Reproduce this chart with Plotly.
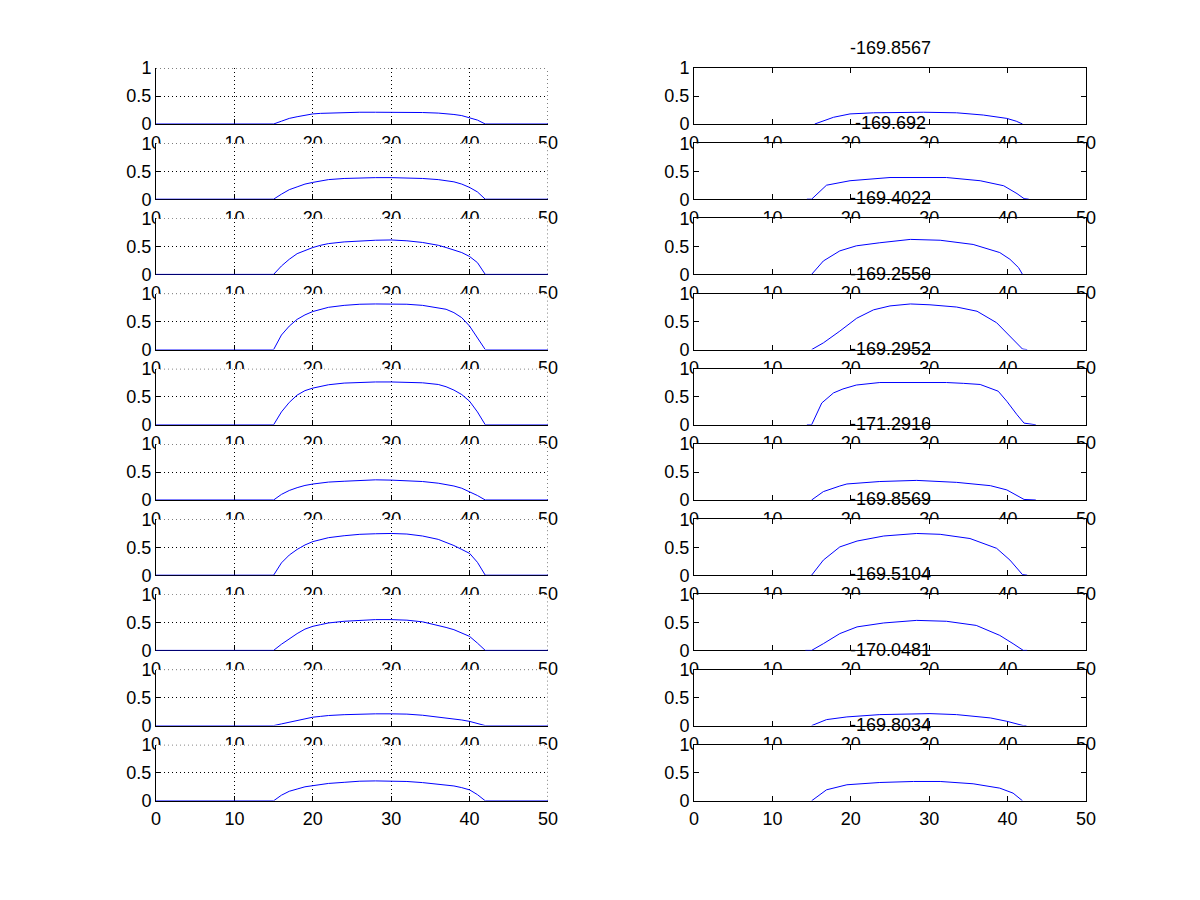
import plotly.graph_objects as go

# ---------------- data ----------------
x_left = [0, 15, 16, 17, 18, 19, 20, 21, 22, 24, 26, 28, 30, 32, 34, 36, 37, 38, 39, 40, 41, 42, 50]

left_1 = [0, 0, .05, .10, .13, .155, .18, .19, .195, .205, .21, .21, .21, .21, .205, .195, .185, .17, .15, .11, .07, 0, 0]
left_2 = [0, 0, .09, .17, .22, .27, .30, .33, .35, .37, .38, .385, .385, .38, .37, .35, .33, .31, .27, .21, .13, 0, 0]
left_3 = [0, 0, .15, .27, .37, .43, .48, .52, .55, .58, .60, .61, .615, .60, .57, .52, .48, .44, .39, .32, .21, 0, 0]
left_4 = [0, 0, .26, .42, .54, .62, .68, .72, .755, .79, .81, .815, .815, .81, .79, .75, .72, .66, .57, .42, .20, 0, 0]
left_5 = [0, 0, .23, .40, .53, .61, .655, .69, .715, .745, .76, .765, .765, .76, .75, .72, .68, .62, .54, .42, .23, 0, 0]
left_6 = [0, 0, .10, .17, .22, .26, .285, .305, .32, .335, .345, .36, .355, .345, .33, .30, .28, .25, .21, .15, .08, 0, 0]
left_7 = [0, 0, .22, .36, .46, .54, .60, .64, .67, .705, .73, .74, .745, .735, .70, .64, .59, .53, .46, .39, .23, 0, 0]
left_8 = [0, 0, .11, .21, .30, .38, .43, .46, .49, .52, .54, .55, .55, .54, .51, .45, .41, .37, .31, .25, .13, 0, 0]
left_9 = [0, 0, .03, .06, .09, .125, .15, .165, .18, .195, .205, .21, .21, .205, .185, .155, .14, .12, .10, .075, .04, 0, 0]
left_10 = [0, 0, .10, .17, .21, .25, .27, .29, .31, .33, .35, .355, .355, .345, .325, .30, .285, .265, .235, .195, .11, 0, 0]

right_x_1 = [15.4, 16.5, 17.8, 19.9, 22.9, 29.3, 33.5, 36.9, 39.9, 41.1, 41.9]
right_y_1 = [0, .05, .12, .18, .20, .21, .20, .16, .10, .05, 0]
right_x_2 = [14.4, 15.0, 16.9, 19.9, 25.0, 32.2, 36.5, 39.5, 41.2, 42.1, 42.7]
right_y_2 = [0, 0, .25, .33, .387, .387, .33, .24, .10, .01, 0]
right_x_3 = [15.0, 16.5, 18.6, 20.7, 23.7, 27.6, 31.4, 35.6, 39.0, 40.3, 41.4, 41.9]
right_y_3 = [0, .24, .42, .51, .565, .625, .61, .535, .39, .27, .12, 0]
right_x_4 = [15.0, 16.5, 18.6, 20.75, 22.9, 25.0, 27.6, 30.1, 33.5, 36.1, 38.6, 40.3, 41.9, 42.5]
right_y_4 = [0, .12, .33, .56, .71, .78, .815, .80, .76, .685, .48, .24, .01, 0]
right_x_5 = [14.4, 15.0, 16.3, 17.8, 19.0, 20.7, 23.7, 32.2, 34.4, 36.5, 38.8, 39.9, 41.2, 42.1, 43.6]
right_y_5 = [0, 0, .39, .57, .64, .71, .755, .755, .74, .72, .60, .42, .18, .03, 0]
right_x_6 = [15.0, 16.5, 18.6, 19.5, 23.7, 28.4, 33.5, 37.8, 39.9, 41.6, 42.1, 43.6]
right_y_6 = [0, .15, .25, .286, .33, .35, .315, .256, .18, .06, .01, 0]
right_x_7 = [15.0, 16.5, 18.6, 20.8, 24.2, 28.4, 31.4, 35.2, 38.6, 40.3, 41.9, 42.5]
right_y_7 = [0, .27, .505, .61, .70, .745, .73, .655, .48, .27, .01, 0]
right_x_8 = [14.2, 15.0, 16.5, 18.6, 20.8, 24.2, 28.4, 32.2, 36.0, 39.0, 40.7, 42.0, 42.5]
right_y_8 = [0, 0, .12, .30, .42, .49, .536, .52, .446, .268, .12, 0, 0]
right_x_9 = [15.0, 16.9, 19.5, 23.7, 30.1, 33.5, 37.8, 39.9, 42.0, 42.4]
right_y_9 = [0, .107, .155, .196, .214, .196, .137, .077, 0, 0]
right_x_10 = [15.0, 16.9, 19.5, 23.7, 28.0, 31.4, 35.6, 39.0, 40.7, 41.9]
right_y_10 = [0, .196, .286, .327, .345, .345, .304, .226, .137, 0]

titles = ["-169.8567", "-169.692", "-169.4022", "-169.2556", "-169.2952",
          "-171.2916", "-169.8569", "-169.5104", "-170.0481", "-169.8034"]

x_ticks = [0, 10, 20, 30, 40, 50]
y_ticks = [0, 0.5, 1]
y_tick_text = ["0", "0.5", "1"]

left_series = [left_1, left_2, left_3, left_4, left_5, left_6, left_7, left_8, left_9, left_10]
right_series = [(right_x_1, right_y_1), (right_x_2, right_y_2), (right_x_3, right_y_3),
                (right_x_4, right_y_4), (right_x_5, right_y_5), (right_x_6, right_y_6),
                (right_x_7, right_y_7), (right_x_8, right_y_8), (right_x_9, right_y_9),
                (right_x_10, right_y_10)]

# ---------------- layout ----------------
PAGE_OFF = 8                      # default body margin of the html page
W, H = 1200 - 2 * PAGE_OFF, 900 - 2 * PAGE_OFF
LEFT_X = (156 - PAGE_OFF, 548 - PAGE_OFF)
RIGHT_X = (694 - PAGE_OFF, 1086 - PAGE_OFF)
TOP0 = 68 - PAGE_OFF
PITCH = 75.2
AX_H = 56
X_MIN, X_MAX = x_ticks[0], x_ticks[-1]
Y_MIN, Y_MAX = y_ticks[0], y_ticks[-1]

FONT = dict(family="Liberation Sans, Arial, sans-serif", size=18, color="black")
DOT = "1px,3px"

fig = go.Figure()
layout = dict(
    width=W, height=H, autosize=False,
    margin=dict(l=0, r=0, t=0, b=0, autoexpand=False),
    paper_bgcolor="white", plot_bgcolor="white",
    showlegend=False, font=FONT,
)
annotations = []
shapes = []

for i in range(10):
    top = TOP0 + PITCH * i
    bot = top + AX_H
    ydom = [1 - bot / H, 1 - top / H]
    for col in range(2):
        n = 2 * i + col + 1
        xs = "x" if n == 1 else f"x{n}"
        ys = "y" if n == 1 else f"y{n}"
        xk = "xaxis" if n == 1 else f"xaxis{n}"
        yk = "yaxis" if n == 1 else f"yaxis{n}"
        xr = LEFT_X if col == 0 else RIGHT_X
        xdom = [xr[0] / W, xr[1] / W]
        if col == 0:
            fig.add_trace(go.Scatter(x=x_left, y=left_series[i], mode="lines",
                                     line=dict(color="#0000ff", width=1),
                                     xaxis=xs, yaxis=ys, hoverinfo="skip"))
        else:
            rx, ry = right_series[i]
            fig.add_trace(go.Scatter(x=rx, y=ry, mode="lines",
                                     line=dict(color="#0000ff", width=1),
                                     xaxis=xs, yaxis=ys, hoverinfo="skip"))
        grid = col == 0
        common = dict(showline=True, linecolor="black", linewidth=1,
                      ticks="inside", ticklen=5, tickcolor="black", tickwidth=1,
                      mirror=False if grid else "ticks",
                      showgrid=grid, gridcolor="black", gridwidth=1,
                      griddash=DOT, zeroline=False, automargin=False,
                      layer="below traces",
                      tickfont=FONT, fixedrange=True)
        layout[xk] = dict(common, domain=xdom, range=[X_MIN, X_MAX], tickvals=x_ticks,
                          anchor=ys, ticklabelstandoff=2)
        layout[yk] = dict(common, domain=ydom, range=[Y_MIN, Y_MAX], tickvals=y_ticks,
                          ticktext=y_tick_text, anchor=xs, ticklabelstandoff=0)
        # opaque axes background (drawn in this subplot's own layer, so it hides
        # the tick labels of the axes above, like stacked MATLAB axes)
        shapes.append(dict(type="rect", xref=xs, yref=ys, layer="below",
                           x0=X_MIN, x1=X_MAX, y0=Y_MIN, y1=Y_MAX,
                           fillcolor="white", line=dict(width=0)))
        if grid:
            # dotted grid lines on the box edges (top and right)
            shapes.append(dict(type="line", xref=xs, yref=ys, layer="below",
                               x0=X_MIN, x1=X_MAX, y0=Y_MAX, y1=Y_MAX,
                               line=dict(color="black", width=1, dash=DOT)))
            shapes.append(dict(type="line", xref=xs, yref=ys, layer="below",
                               x0=X_MAX, x1=X_MAX, y0=Y_MIN, y1=Y_MAX,
                               line=dict(color="black", width=1, dash=DOT)))
        else:
            annotations.append(dict(
                text=titles[i], xref="paper", yref="paper",
                x=(xr[0] + xr[1]) / 2 / W, y=1 - top / H,
                xanchor="center", yanchor="bottom", yshift=8,
                showarrow=False, font=FONT))

layout["annotations"] = annotations
layout["shapes"] = shapes
fig.update_layout(**layout)
fig.write_html("out.html")
